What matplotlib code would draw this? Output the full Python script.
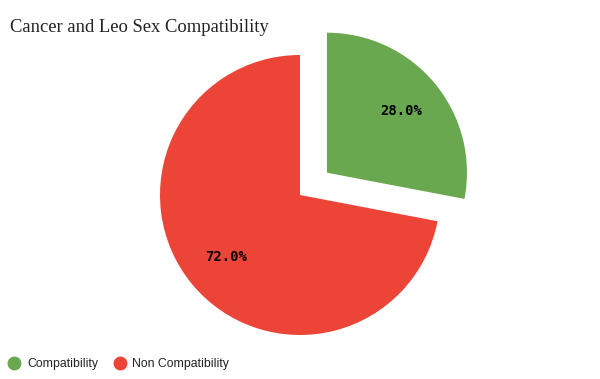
import matplotlib.pyplot as plt
from matplotlib.lines import Line2D

labels = ["Compatibility", "Non Compatibility"]
values = [28.0, 72.0]
colors = ["#6aa84f", "#ec4436"]
explode = [0.25, 0.0]

fig = plt.figure(figsize=(6.0, 3.79), dpi=100)
ax = fig.add_axes([0, 0, 1, 1])

# 140 px per data unit, pie centre at pixel (300, 195)
ax.pie(values, colors=colors, explode=explode, startangle=90, counterclock=False,
       autopct="%1.1f%%", pctdistance=0.69,
       textprops={"family": "DejaVu Sans Mono", "weight": "bold", "fontsize": 10, "color": "black"})
ax.set_xlim(-300 / 140, 300 / 140)
ax.set_ylim(-184 / 140, 195 / 140)
ax.axis("off")

fig.text(10 / 600, 1 - 27 / 379, "Cancer and Leo Sex Compatibility", family="Liberation Serif",
         fontsize=13.4, color="#222222", va="center", ha="left")

handles = [Line2D([], [], marker="o", linestyle="none", markersize=9, markerfacecolor=c,
                  markeredgecolor=c) for c in colors]
fig.legend(handles, labels, loc="center left", bbox_to_anchor=(-4 / 600, 1 - 364 / 379),
           frameon=False, ncol=2, prop={"family": "Liberation Sans", "size": 8.8},
           handletextpad=0.45, columnspacing=1.15, handlelength=1.2, labelcolor="#222222")

fig.savefig("out.png", dpi=100)
